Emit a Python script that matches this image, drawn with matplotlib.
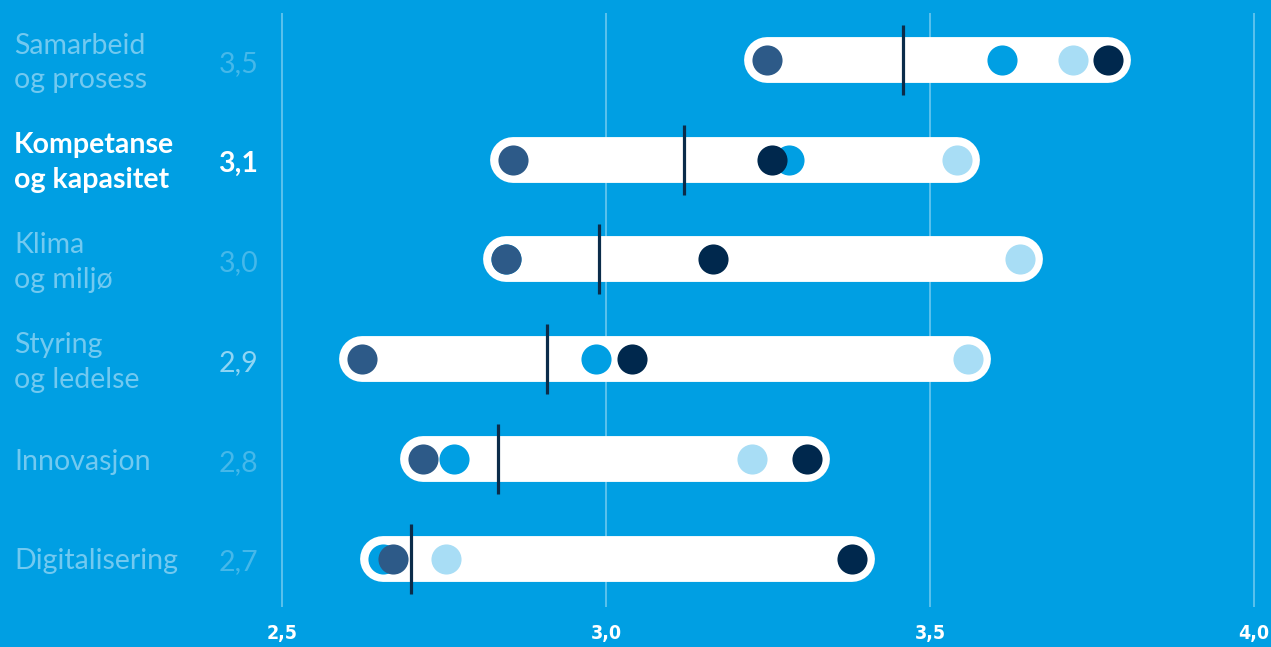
import matplotlib
matplotlib.use("Agg")
import matplotlib.pyplot as plt
from matplotlib.transforms import blended_transform_factory

# ---------------- data ----------------
categories = ["Samarbeid\nog prosess", "Kompetanse\nog kapasitet", "Klima\nog miljø",
              "Styring\nog ledelse", "Innovasjon", "Digitalisering"]
value_labels = ["3,5", "3,1", "3,0", "2,9", "2,8", "2,7"]
mean_values = [3.458, 3.120, 2.989, 2.909, 2.833, 2.699]
series_midblue = [3.611, 3.282, 2.846, 2.985, 2.765, 2.656]
series_light = [3.721, 3.542, 3.639, 3.559, 3.225, 2.753]
series_greyblue = [3.248, 2.856, 2.846, 2.623, 2.718, 2.671]
series_navy = [3.775, 3.256, 3.165, 3.040, 3.310, 3.380]
xticks = [2.5, 3.0, 3.5, 4.0]
xtick_labels = ["2,5", "3,0", "3,5", "4,0"]
highlight = 1

# ---------------- style ----------------
BG = "#009FE3"
GRID = "#62C4EE"
C_MID = "#009FE3"
C_LIGHT = "#A8DDF5"
C_GREY = "#2D5A88"
C_NAVY = "#00284D"
C_MEAN = "#0B2C4A"
CAT_COLOR = "#72C9F0"
VAL_COLOR = "#45B8EA"
FONT = "Lato"

W, H = 1271, 647
fig = plt.figure(figsize=(W / 100, H / 100), dpi=100, facecolor=BG)
ax = fig.add_axes([0, 0, 1, 1])
ax.set_facecolor(BG)
for s in ax.spines.values():
    s.set_visible(False)
ax.set_xticks([])
ax.set_yticks([])

# pixel mapping: 2.5 -> 282 px, 4.0 -> 1254 px
px_per_unit = (1254 - 282) / 1.5
x0 = 2.5 - 282 / px_per_unit
x1 = 2.5 + (W - 282) / px_per_unit
ax.set_xlim(x0, x1)
ax.set_ylim(H, 0)  # y in pixel units (top = 0)

row_y = [60 + i * 99.7 for i in range(len(categories))]

# grid lines
ax.vlines(xticks, 13, 607, color=GRID, lw=1.3, zorder=1)
for t, lab in zip(xticks, xtick_labels):
    ax.text(t, 634, lab, ha="center", va="center", color="white",
            fontsize=14, fontweight="bold", family="DejaVu Sans", fontstretch="condensed")

# rows
for i, y in enumerate(row_y):
    vals = [series_midblue[i], series_light[i], series_greyblue[i], series_navy[i]]
    lo, hi = min(vals), max(vals)
    ax.plot([lo, hi], [y, y], color="white", lw=33, solid_capstyle="round", zorder=2)
    ax.scatter([series_midblue[i]], [y], s=470, color=C_MID, lw=0, zorder=3)
    ax.scatter([series_light[i]], [y], s=470, color=C_LIGHT, lw=0, zorder=4)
    ax.scatter([series_greyblue[i]], [y], s=470, color=C_GREY, lw=0, zorder=5)
    ax.scatter([series_navy[i]], [y], s=470, color=C_NAVY, lw=0, zorder=6)
    ax.vlines(mean_values[i], y - 35, y + 35, color=C_MEAN, lw=2.3, zorder=7)

# left labels
tr = blended_transform_factory(fig.transFigure, ax.transData)
for i, y in enumerate(row_y):
    bold = (i == highlight)
    ccol = "white" if bold else CAT_COLOR
    vcol = "white" if bold else ("#8FD5F4" if i == 3 else VAL_COLOR)
    fw = "bold" if bold else "normal"
    ax.text(14 / W, y + 3, categories[i], transform=tr, ha="left", va="center",
            color=ccol, fontsize=20.5, fontweight=fw, family=FONT, linespacing=1.42)
    ax.text(258 / W, y + 4, value_labels[i], transform=tr, ha="right", va="center",
            color=vcol, fontsize=20.5, fontweight=fw, family=FONT)

fig.savefig("out.png", dpi=100, facecolor=BG)
